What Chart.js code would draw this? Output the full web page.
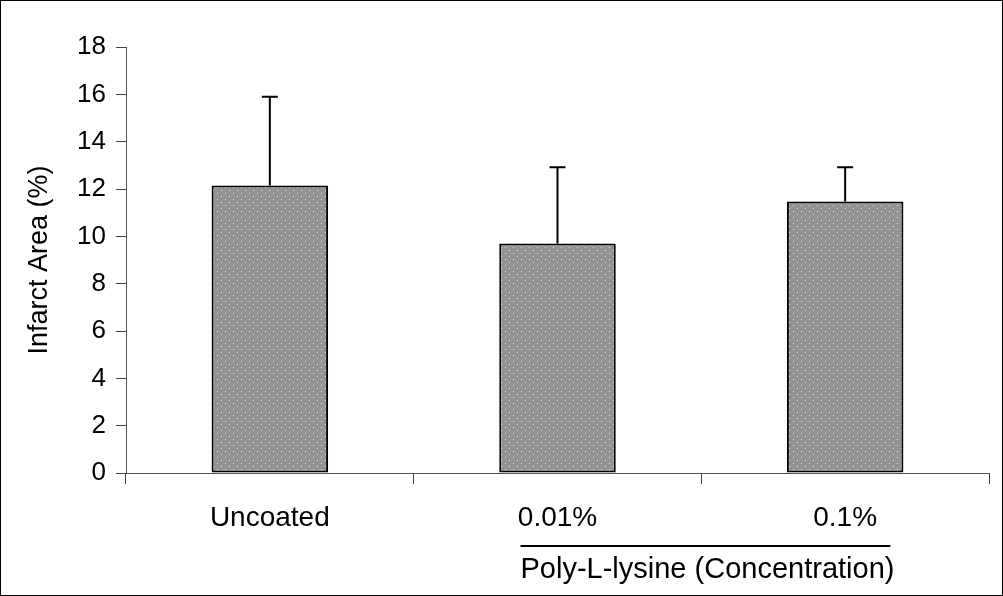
<!DOCTYPE html>
<html>
<head>
<meta charset="utf-8">
<script src="https://cdn.jsdelivr.net/npm/chart.js@4.4.1/dist/chart.umd.min.js"></script>
<style>
  html, body { margin: 0; padding: 0; background: #fff; }
  #wrap { width: 1003px; height: 596px; position: relative; }
</style>
</head>
<body>
<div id="wrap"><canvas id="chart" width="1003" height="596"></canvas></div>
<script>
/* ===== Data ===== */
const categories = ['Uncoated', '0.01%', '0.1%'];
const infarctMean = [12.15, 9.7, 11.47];
const errorTop    = [15.9, 12.92, 12.92];   // mean + SD
const yTicks      = [0, 2, 4, 6, 8, 10, 12, 14, 16, 18];
const groupTitle  = 'Poly-L-lysine (Concentration)';
const yTitle      = 'Infarct Area (%)';

const FONT = 'Arial, "Liberation Sans", sans-serif';

/* ===== Dotted fill (Excel-like pattern) ===== */
function dotPattern(){
  const c = document.createElement('canvas');
  c.width = 8; c.height = 6;
  const g = c.getContext('2d');
  g.fillStyle = '#939393';
  g.fillRect(0, 0, 8, 6);
  g.fillStyle = '#e6e6e6';
  g.fillRect(1, 1, 1, 1);
  g.fillRect(5, 4, 1, 1);
  return g.createPattern(c, 'repeat');
}

/* ===== Plugins ===== */
const errorBars = {
  id: 'errorBars',
  afterDatasetsDraw(chart){
    const { ctx, scales: { x, y } } = chart;
    ctx.save();
    ctx.strokeStyle = '#000';
    ctx.lineWidth = 2;
    errorTop.forEach((v, i) => {
      const px = x.getPixelForValue(i);
      const top = y.getPixelForValue(v);
      const base = y.getPixelForValue(infarctMean[i]);
      ctx.beginPath();
      ctx.moveTo(px, base); ctx.lineTo(px, top);
      ctx.moveTo(px - 8, top); ctx.lineTo(px + 8, top);
      ctx.stroke();
    });
    ctx.restore();
  }
};

const extras = {
  id: 'extras',
  beforeDraw(chart){
    const { ctx } = chart;
    ctx.save();
    ctx.fillStyle = '#fff';
    ctx.fillRect(0, 0, chart.width, chart.height);
    ctx.restore();
  },
  afterDraw(chart){
    const { ctx, scales: { x, y } } = chart;
    ctx.save();
    // outer frame
    ctx.strokeStyle = '#000';
    ctx.lineWidth = 1;
    ctx.strokeRect(0.5, 0.5, chart.width - 1, chart.height - 1);

    // group underline + title under the two concentrations
    ctx.font = '29px ' + FONT;
    const tw = ctx.measureText(groupTitle).width;
    const x1 = x.getPixelForValue(1) - 37;
    const x2 = x1 + tw - 4;
    const yl = 546;
    ctx.strokeStyle = '#000';
    ctx.lineWidth = 2;
    ctx.beginPath(); ctx.moveTo(x1, yl); ctx.lineTo(x2, yl); ctx.stroke();

    ctx.fillStyle = '#000';
    ctx.textAlign = 'left';
    ctx.textBaseline = 'middle';
    ctx.fillText(groupTitle, x1, 570);

    // y axis title
    ctx.translate(40, (y.top + y.bottom) / 2);
    ctx.rotate(-Math.PI / 2);
    ctx.textAlign = 'center';
    ctx.font = '27px ' + FONT;
    ctx.fillText(yTitle, 0, 0);
    ctx.restore();
  }
};

/* ===== Chart ===== */
new Chart(document.getElementById('chart').getContext('2d'), {
  type: 'bar',
  data: {
    labels: categories,
    datasets: [{
      data: infarctMean,
      backgroundColor: dotPattern(),
      borderColor: '#000',
      borderWidth: 2,
      borderSkipped: false,
      barPercentage: 0.81,
      categoryPercentage: 0.5
    }]
  },
  options: {
    responsive: false,
    animation: false,
    devicePixelRatio: 1,
    layout: { padding: { top: 47, right: 14, left: 0, bottom: 0 } },
    plugins: { legend: { display: false }, tooltip: { enabled: false } },
    scales: {
      x: {
        grid: { offset: true, drawOnChartArea: false, color: '#444', tickLength: 11, lineWidth: 1 },
        border: { color: '#555', width: 1 },
        ticks: {
          color: '#000',
          font: { family: FONT, size: 28 },
          padding: 17
        },
        afterFit(s){ s.height = 596 - 473; s.paddingLeft = 0; s.paddingRight = 0; }
      },
      y: {
        min: 0, max: 18,
        afterBuildTicks(s){ s.ticks = yTicks.map(v => ({ value: v })); },
        grid: { drawOnChartArea: false, color: '#444', tickLength: 10 },
        border: { color: '#555', width: 1 },
        ticks: { color: '#000', font: { family: FONT, size: 26 }, padding: 10 },
        afterFit(s){ s.width = 126; s.paddingTop = 0; s.paddingBottom = 0; }
      }
    }
  },
  plugins: [extras, errorBars]
});
</script>
</body>
</html>
